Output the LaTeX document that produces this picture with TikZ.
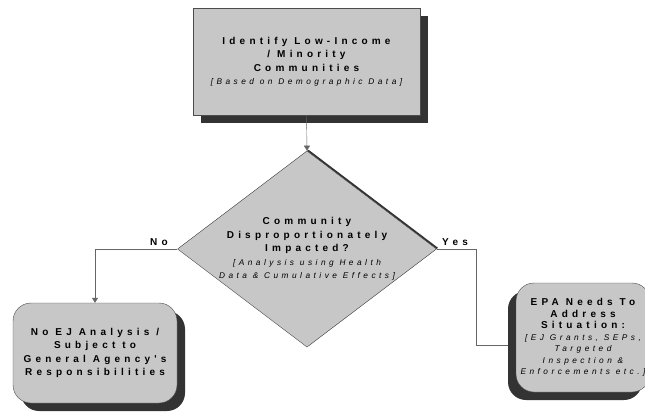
\documentclass[tikz,border=0pt]{standalone}
\usepackage{fontspec}
\setmainfont{Liberation Sans}
\newfontfamily\spaced[LetterSpace=42]{Liberation Sans}
\usetikzlibrary{shapes.geometric,arrows.meta,shadows}
\newcommand\Note[1]{{\fontsize{8.3}{11}\selectfont\mdseries\itshape #1}}
\tikzset{
    stepbox/.style={draw=black!70, fill=black!22, align=center, inner sep=2pt,
        font=\spaced\bfseries\fontsize{10}{13.5}\selectfont},
    darkshadow/.style={general shadow={shadow xshift=#1, shadow yshift=-8pt, fill=black!80}},
    link/.style={draw=black!60, thin},
    arrow/.style={link, -{Triangle[length=5pt,width=6pt]}},
}
\begin{document}
\begin{tikzpicture}[x=1pt,y=-1pt]
    \useasboundingbox (0,0) rectangle (645,418);
    % boxes
    \node[stepbox, darkshadow=8pt, minimum width=227, minimum height=107] (ident) at (306.5,61.5)
        {Identify Low-Income\\/ Minority\\Communities\\\Note{[Based on Demographic Data]}};
    \node[stepbox, shape=diamond, aspect=1.32, minimum width=259, minimum height=196, inner sep=0pt,
        general shadow={shadow xshift=1.6pt, shadow yshift=1.2pt, fill=black!80}] (impact) at (307,249)
        {Community\\Disproportionately\\Impacted?\\\Note{[Analysis using Health}\\\Note{Data \& Cumulative Effects]}};
    \node[stepbox, darkshadow=8pt, rounded corners=18pt, minimum width=164, minimum height=100] (noej) at (95,353)
        {No EJ Analysis /\\Subject to\\General Agency's\\Responsibilities};
    \node[stepbox, darkshadow=-8pt, rounded corners=18pt, minimum width=134, minimum height=109,
        font=\spaced\bfseries\fontsize{10}{11.5}\selectfont] (epa) at (583,337.5)
        {EPA Needs To\\Address\\Situation:\\\Note{[EJ Grants, SEPs,}\\\Note{Targeted}\\\Note{Inspection \&}\\\Note{Enforcements etc.]}};
    % connectors
    \coordinate (epaIn) at ([shift={(-8,8)}]epa.west);
    \draw[arrow] (ident.south) -- (impact.north);
    \draw[arrow] (impact.west) -| (noej.north);
    \draw[link] (impact.east) -- ++(39,0) coordinate (turn) |- (epaIn);
    \node[font=\spaced\bfseries\fontsize{10}{11}\selectfont, above left, xshift=-6pt] at (impact.west) {No};
    \node[font=\spaced\bfseries\fontsize{10}{11}\selectfont, above right, xshift=2pt] at (impact.east) {Yes};
\end{tikzpicture}
\end{document}
